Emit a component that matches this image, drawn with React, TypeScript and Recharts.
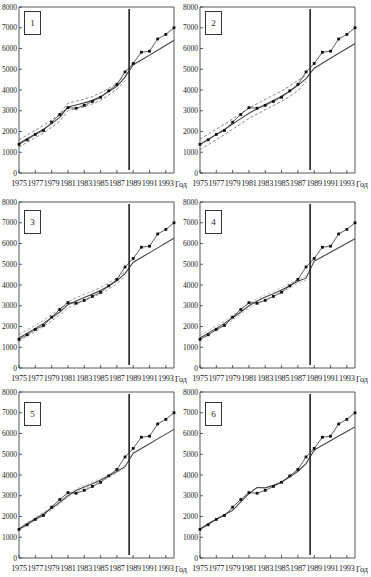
import React from "react";
import {
  LineChart,
  Line,
  XAxis,
  YAxis,
  ReferenceLine,
  ReferenceArea,
} from "recharts";

const years = [
  1975, 1976, 1977, 1978, 1979, 1980, 1981, 1982, 1983, 1984, 1985, 1986,
  1987, 1988, 1989, 1990, 1991, 1992, 1993, 1994,
];
const xTicks = [1975, 1977, 1979, 1981, 1983, 1985, 1987, 1989, 1991, 1993];
const yTicks = [0, 1000, 2000, 3000, 4000, 5000, 6000, 7000, 8000];
const splitYear = 1988.5;

// observed values (dots)
const actual = [
  1380, 1600, 1860, 2050, 2450, 2820, 3150, 3120, 3260, 3450, 3650, 3960,
  4270, 4870, 5280, 5820, 5870, 6460, 6680, 7000,
];

// model curves, one per panel
const model1 = [
  1420, 1650, 1880, 2110, 2380, 2680, 3180, 3280, 3380, 3500, 3680, 3920,
  4180, 4620, 5220, 5450, 5680, 5920, 6160, 6400,
];
const model2 = [
  1380, 1620, 1860, 2100, 2360, 2620, 2880, 3090, 3300, 3500, 3700, 3940,
  4220, 4550, 5050, 5290, 5530, 5770, 6000, 6240,
];
const model3 = [
  1450, 1680, 1910, 2150, 2420, 2700, 3050, 3230, 3400, 3560, 3730, 3950,
  4200, 4550, 5100, 5330, 5560, 5790, 6020, 6250,
];
const model4 = [
  1450, 1680, 1910, 2150, 2420, 2700, 3000, 3230, 3420, 3580, 3760, 3960,
  4180, 4330, 5150, 5360, 5580, 5800, 6010, 6230,
];
const model5 = [
  1400, 1650, 1890, 2130, 2400, 2680, 3000, 3250, 3420, 3580, 3760, 3950,
  4170, 4400, 5050, 5280, 5510, 5740, 5970, 6200,
];
const model6 = [
  1400, 1650, 1880, 2080, 2300, 2700, 3100, 3400, 3380, 3500, 3660, 3900,
  4180, 4550, 5200, 5430, 5650, 5880, 6100, 6320,
];

// confidence bands over the fitting period 1975-1988
const upper1 = [1600, 1830, 2060, 2290, 2560, 2860, 3360, 3460, 3560, 3680, 3860, 4080, 4320, 4720];
const lower1 = [1250, 1480, 1710, 1930, 2200, 2500, 3000, 3100, 3200, 3330, 3500, 3760, 4040, 4450];
const upper2 = [1630, 1870, 2110, 2350, 2610, 2870, 3130, 3340, 3550, 3750, 3950, 4190, 4470, 4700];
const lower2 = [1130, 1370, 1610, 1850, 2110, 2370, 2630, 2840, 3050, 3250, 3450, 3690, 3970, 4400];
const upper3 = [1600, 1830, 2060, 2300, 2570, 2850, 3200, 3380, 3550, 3710, 3880, 4100, 4330, 4650];
const lower3 = [1300, 1530, 1760, 2000, 2270, 2550, 2900, 3080, 3250, 3410, 3580, 3800, 4060, 4400];
const upper4 = [1560, 1790, 2020, 2260, 2530, 2810, 3110, 3340, 3530, 3690, 3870, 4070, 4280, 4430];
const lower4 = [1340, 1570, 1800, 2040, 2310, 2590, 2890, 3120, 3310, 3470, 3650, 3850, 4080, 4230];
const upper5 = [1480, 1730, 1970, 2210, 2480, 2760, 3080, 3330, 3500, 3660, 3840, 4030, 4250, 4470];
const lower5 = [1320, 1570, 1810, 2050, 2320, 2600, 2920, 3170, 3340, 3500, 3680, 3870, 4090, 4330];

const panelLabels = ["1", "2", "3", "4", "5", "6"];
const models = [model1, model2, model3, model4, model5, model6];
const uppers = [upper1, upper2, upper3, upper4, upper5, null];
const lowers = [lower1, lower2, lower3, lower4, lower5, null];
const bandColors = ["#555", "#555", "#777", "#999", "#aaa", "#555"];

const FONT = '"Liberation Serif", "DejaVu Serif", serif';
const rowTops = [0, 195, 385];
const boxOffsets = [4, 8, 10];

const Dot = (props: any) => {
  const { cx, cy } = props;
  if (cx == null || cy == null) return null;
  return <rect x={cx - 1.4} y={cy - 1.4} width={2.8} height={2.8} fill="#111" />;
};

function Panel({ index }: { index: number }) {
  const col = index % 2;
  const row = Math.floor(index / 2);
  const left = col === 0 ? 0 : 178;
  const width = col === 0 ? 192 : 193;
  const yAxisWidth = col === 0 ? 19 : 22;
  const rightMargin = col === 0 ? 18 : 16;
  const up = uppers[index];
  const lo = lowers[index];

  const data = years.map((year, i) => ({
    year,
    actual: actual[i],
    model: models[index][i],
    upper: up && i < up.length ? up[i] : null,
    lower: lo && i < lo.length ? lo[i] : null,
  }));

  return (
    <div style={{ position: "absolute", left, top: rowTops[row], width, height: 192 }}>
      <LineChart
        width={width}
        height={192}
        data={data}
        margin={{ top: 7, right: rightMargin, bottom: 0, left: 0 }}
      >
        <XAxis
          dataKey="year"
          type="number"
          domain={[1975, 1994]}
          ticks={xTicks}
          interval={0}
          height={19}
          axisLine={false}
          tickSize={-3}
          tickMargin={10}
          tickLine={{ stroke: "#333", strokeWidth: 0.8 }}
          tick={{ fontSize: 8.2, fill: "#222", fontFamily: FONT, letterSpacing: -0.2 }}
          label={{
            value: "Год",
            position: "right",
            offset: 1,
            fontSize: 8.2,
            fill: "#222",
            fontFamily: FONT,
            dy: 2,
          }}
        />
        <YAxis
          type="number"
          domain={[0, 8000]}
          ticks={yTicks}
          interval={0}
          width={yAxisWidth}
          axisLine={false}
          tickSize={-3}
          tickMargin={5}
          tickLine={{ stroke: "#333", strokeWidth: 0.8 }}
          tick={{ fontSize: 7.5, fill: "#222", fontFamily: FONT }}
        />
        <ReferenceArea
          x1={1975}
          x2={1994}
          y1={0}
          y2={8000}
          fill="none"
          stroke="#444"
          strokeWidth={0.9}
          fillOpacity={0}
        />
        {up && (
          <Line
            dataKey="upper"
            stroke={bandColors[index]}
            strokeWidth={0.7}
            strokeDasharray="3 2"
            dot={false}
            connectNulls={false}
            isAnimationActive={false}
          />
        )}
        {lo && (
          <Line
            dataKey="lower"
            stroke={bandColors[index]}
            strokeWidth={0.7}
            strokeDasharray="3 2"
            dot={false}
            connectNulls={false}
            isAnimationActive={false}
          />
        )}
        <Line
          dataKey="model"
          stroke="#444"
          strokeWidth={1.1}
          dot={false}
          isAnimationActive={false}
        />
        <Line
          dataKey="actual"
          stroke="#333"
          strokeWidth={0.8}
          dot={<Dot />}
          isAnimationActive={false}
        />
        <ReferenceLine
          segment={[
            { x: splitYear, y: 150 },
            { x: splitYear, y: 7900 },
          ]}
          stroke="#222"
          strokeWidth={1.6}
        />
      </LineChart>
      <div
        style={{
          position: "absolute",
          left: yAxisWidth + 5,
          top: 7 + boxOffsets[row],
          width: 15,
          height: 22,
          border: "1.5px solid #333",
          fontFamily: FONT,
          fontSize: 9,
          color: "#222",
          display: "flex",
          alignItems: "center",
          justifyContent: "center",
        }}
      >
        {panelLabels[index]}
      </div>
    </div>
  );
}

export default function App() {
  return (
    <div
      style={{
        position: "absolute",
        left: 0,
        top: 0,
        width: 371,
        height: 577,
        background: "#fff",
        overflow: "hidden",
      }}
    >
      {panelLabels.map((_, i) => (
        <Panel key={i} index={i} />
      ))}
    </div>
  );
}
